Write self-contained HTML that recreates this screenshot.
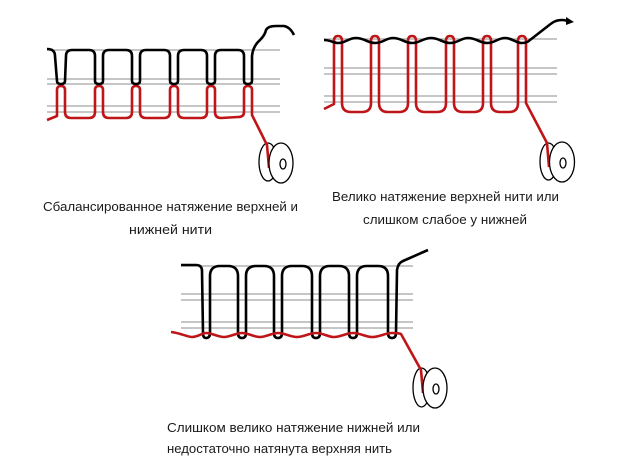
<!DOCTYPE html>
<html>
<head>
<meta charset="utf-8">
<style>
html,body{margin:0;padding:0;background:#fff;}
svg{display:block;}
text{font-family:"Liberation Sans","DejaVu Sans",sans-serif;font-size:13px;fill:#1a1a1a;}
</style>
</head>
<body>
<svg width="624" height="465" viewBox="0 0 624 465" xmlns="http://www.w3.org/2000/svg">
<rect width="624" height="465" fill="#fff"/>

<!-- Diagram 1 -->
<g stroke="#a3a3a3" stroke-width="1.2">
<line x1="47" y1="50" x2="280" y2="50"/>
<line x1="47" y1="79" x2="280" y2="79"/>
<line x1="47" y1="84" x2="280" y2="84"/>
<line x1="47" y1="106" x2="280" y2="106"/>
<line x1="47" y1="112" x2="280" y2="112"/>
</g>
<ellipse cx="268" cy="162" rx="9" ry="19" fill="#fff" stroke="#000" stroke-width="1.3"/>
<path fill="none" stroke="#bf1518" stroke-width="2.6" stroke-linejoin="round" d="M47,120 L57,116 L57,90 Q57,86 61,86 Q65,86 65,90 L65,112 Q65,118 71,118 L89,118 Q95,118 95,112 L95,90 Q95,86 99,86 Q103,86 103,90 L103,112 Q103,118 109,118 L126,118 Q132,118 132,112 L132,90 Q132,86 136,86 Q140,86 140,90 L140,112 Q140,118 146,118 L164,118 Q170,118 170,112 L170,90 Q170,86 174,86 Q178,86 178,90 L178,112 Q178,118 184,118 L201,118 Q207,118 207,112 L207,90 Q207,86 211,86 Q215,86 215,90 L215,112 Q215,118 221,118 L238,117 Q244,117 244,112 L244,90 Q244,86 248,86 Q252,86 252,90 L252,115 L267,145 L269,168"/>
<path fill="none" stroke="#000" stroke-width="2.6" stroke-linejoin="round" d="M47,49 Q55,49 55,56 L57,81 Q57,84 61,84 Q65,84 65,81 L66,56 Q66,50 72,50 L89,50 Q95,50 95,56 L95,81 Q95,84 99,84 Q103,84 103,81 L103,56 Q103,50 109,50 L126,50 Q132,50 132,56 L132,81 Q132,84 136,84 Q140,84 140,81 L140,56 Q140,50 146,50 L164,50 Q170,50 170,56 L170,81 Q170,84 174,84 Q178,84 178,81 L178,56 Q178,50 184,50 L201,50 Q207,50 207,56 L207,81 Q207,84 211,84 Q215,84 215,81 L215,56 Q215,50 221,50 L238,50 Q244,50 244,56 L244,81 Q244,84 248,84 Q252,84 252,81 L252,56 Q253,46 260,40 Q265,35 266,30 Q268,26 276,26 L284,26 Q290,27 294,35"/>
<ellipse cx="281" cy="163" rx="12" ry="20" fill="#fff" stroke="#000" stroke-width="1.3"/>
<ellipse cx="283" cy="164" rx="3" ry="5" fill="#fff" stroke="#000" stroke-width="1.3"/>

<!-- Diagram 2 -->
<g stroke="#a3a3a3" stroke-width="1.2">
<line x1="324" y1="39" x2="557" y2="39"/>
<line x1="324" y1="68" x2="557" y2="68"/>
<line x1="324" y1="74" x2="557" y2="74"/>
<line x1="324" y1="96" x2="557" y2="96"/>
<line x1="324" y1="102" x2="557" y2="102"/>
</g>
<ellipse cx="548.5" cy="161.5" rx="8.5" ry="18.5" fill="#fff" stroke="#000" stroke-width="1.3"/>
<path fill="none" stroke="#bf1518" stroke-width="2.6" stroke-linejoin="round" d="M324,109 L334,104 L334,41 Q334,36 338,36 Q342,36 342,41 L342,103 Q342,112 351,112 L362,112 Q371,112 371,103 L371,41 Q371,36 375,36 Q379,36 379,41 L379,103 Q379,112 388,112 L399,112 Q408,112 408,103 L408,41 Q408,36 412,36 Q416,36 416,41 L416,103 Q416,112 425,112 L437,112 Q446,112 446,103 L446,41 Q446,36 450,36 Q454,36 454,41 L454,103 Q454,112 463,112 L474,112 Q483,112 483,103 L483,41 Q483,36 487,36 Q491,36 491,41 L491,103 Q491,112 500,112 L509,112 Q518,112 518,103 L518,41 Q518,36 522,36 Q526,36 526,41 L526,103 L547,143 L549,167"/>
<path fill="none" stroke="#000" stroke-width="2.6" stroke-linejoin="round" d="M324,40 C330,40 334,43 338,43 C346,43 348,38 356,38 C364,38 368,43 375,43 C383,43 386,38 393,38 C401,38 405,43 412,43 C420,43 423,38 431,38 C439,38 443,43 450,43 C458,43 461,38 468,38 C476,38 480,43 487,43 C495,43 498,38 505,38 C512,38 516,43 522,43 C526,43 528,42 530,40 L548,26 C553,22 556,20 562,20 C565,20 568,21 570,22"/>
<path d="M566,17 L574,22 L566,25 Z" fill="#000"/>
<ellipse cx="562" cy="162" rx="12.5" ry="20" fill="#fff" stroke="#000" stroke-width="1.3"/>
<ellipse cx="563" cy="163" rx="3" ry="5" fill="#fff" stroke="#000" stroke-width="1.3"/>

<!-- Diagram 3 -->
<g stroke="#a3a3a3" stroke-width="1.2">
<line x1="181" y1="266" x2="413" y2="266"/>
<line x1="181" y1="294" x2="413" y2="294"/>
<line x1="181" y1="300" x2="413" y2="300"/>
<line x1="181" y1="322" x2="413" y2="322"/>
<line x1="181" y1="328" x2="413" y2="328"/>
</g>
<ellipse cx="421.5" cy="387.5" rx="8.5" ry="19.5" fill="#fff" stroke="#000" stroke-width="1.3"/>
<path fill="none" stroke="#000" stroke-width="2.6" stroke-linejoin="round" d="M181,265 L196,265 Q202,265 202,271 L203,333 Q203,338 206,338 Q210,338 210,333 L210,276 Q210,266 220,266 L228,266 Q238,266 238,276 L238,333 Q238,338 242,338 Q246,338 246,333 L246,276 Q246,266 256,266 L264,266 Q274,266 274,276 L274,333 Q274,338 278,338 Q282,338 282,333 L282,276 Q282,266 292,266 L302,266 Q312,266 312,276 L312,333 Q312,338 316,338 Q320,338 320,333 L320,276 Q320,266 330,266 L339,266 Q349,266 349,276 L349,333 Q349,338 353,338 Q357,338 357,333 L357,276 Q357,266 367,266 L378,266 Q388,266 388,276 L388,333 Q388,338 392,338 Q396,338 396,333 L397,270 Q398,263 403,261 L428,250"/>
<path fill="none" stroke="#bf1518" stroke-width="2.6" stroke-linejoin="round" d="M171,332 C180,333 188,337 192,337 C198,337 202,333 206,333 C212,333 218,337 224,337 C230,337 236,333 242,333 C248,333 254,337 260,337 C266,337 272,333 278,333 C285,333 290,337 297,337 C304,337 309,333 316,333 C323,333 328,337 334,337 C341,337 346,333 353,333 C360,333 366,337 372,337 C380,337 385,333 392,333 C396,333 399,333 401,334 L421,370 L423,393"/>
<ellipse cx="435" cy="388" rx="12" ry="20" fill="#fff" stroke="#000" stroke-width="1.3"/>
<ellipse cx="436" cy="389" rx="3" ry="5" fill="#fff" stroke="#000" stroke-width="1.3"/>

<!-- Captions -->
<text x="43" y="211" textLength="255" lengthAdjust="spacingAndGlyphs">Сбалансированное натяжение верхней и</text>
<text x="129" y="234" textLength="83" lengthAdjust="spacingAndGlyphs">нижней нити</text>
<text x="332" y="201" textLength="227" lengthAdjust="spacingAndGlyphs">Велико натяжение верхней нити или</text>
<text x="363" y="224" textLength="164" lengthAdjust="spacingAndGlyphs">слишком слабое у нижней</text>
<text x="167" y="432" textLength="253" lengthAdjust="spacingAndGlyphs">Слишком велико натяжение нижней или</text>
<text x="167" y="453" textLength="225" lengthAdjust="spacingAndGlyphs">недостаточно натянута верхняя нить</text>
</svg>
</body>
</html>
